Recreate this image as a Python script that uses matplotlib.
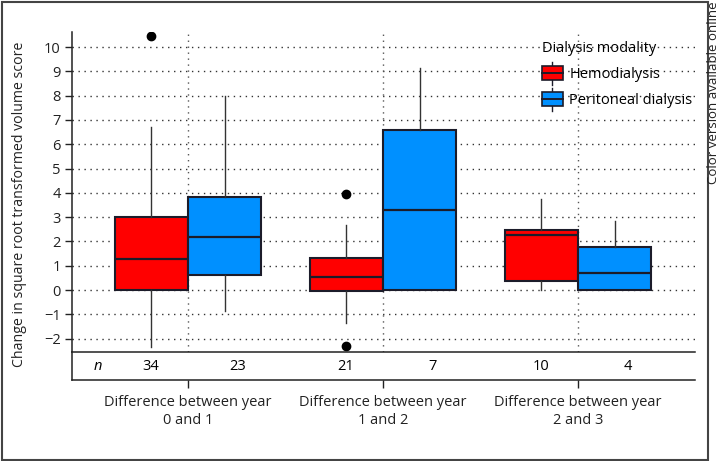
import matplotlib
matplotlib.use("Agg")
import matplotlib.pyplot as plt
from matplotlib.legend_handler import HandlerBase
from matplotlib.patches import Rectangle, Patch
from matplotlib.lines import Line2D

plt.rcParams['font.family'] = ['Open Sans', 'DejaVu Sans']

groups = ["Difference between year\n0 and 1",
          "Difference between year\n1 and 2",
          "Difference between year\n2 and 3"]
modalities = ["Hemodialysis", "Peritoneal dialysis"]
colors = ["#ff0000", "#0090ff"]

# Hemodialysis
hd_q1 = [0.0, -0.05, 0.38]
hd_med = [1.27, 0.55, 2.25]
hd_q3 = [3.02, 1.33, 2.47]
hd_wlo = [-2.33, -1.37, 0.0]
hd_whi = [6.72, 2.68, 3.74]
hd_out = [[10.47], [3.95, -2.3], []]
hd_n = [34, 21, 10]

# Peritoneal dialysis
pd_q1 = [0.6, 0.0, 0.0]
pd_med = [2.17, 3.3, 0.7]
pd_q3 = [3.82, 6.6, 1.77]
pd_wlo = [-0.86, 0.0, 0.0]
pd_whi = [8.0, 9.15, 2.84]
pd_out = [[], [], []]
pd_n = [23, 7, 4]

yticks = list(range(-2, 11))

W, H = 720, 461
fig = plt.figure(figsize=(W / 100, H / 100), dpi=100)

L, R = 72 / W, 695 / W
ax = fig.add_axes([L, 1 - 352 / H, R - L, (352 - 32) / H])
axn = fig.add_axes([L, 1 - 380 / H, R - L, (380 - 352) / H], sharex=ax)

edge = "#1c1c2a"
centers = list(range(len(groups)))
bw = 0.375


def stats(q1, med, q3, lo, hi, out):
    return [dict(q1=a, med=b, q3=c, whislo=d, whishi=e, fliers=f)
            for a, b, c, d, e, f in zip(q1, med, q3, lo, hi, out)]


series = [
    (stats(hd_q1, hd_med, hd_q3, hd_wlo, hd_whi, hd_out), -bw / 2, colors[0]),
    (stats(pd_q1, pd_med, pd_q3, pd_wlo, pd_whi, pd_out), bw / 2, colors[1]),
]
for st, off, col in series:
    ax.bxp(st, positions=[c + off for c in centers], widths=bw,
           patch_artist=True, showcaps=False, manage_ticks=False,
           boxprops=dict(facecolor=col, edgecolor=edge, linewidth=1.5),
           medianprops=dict(color=edge, linewidth=1.6),
           whiskerprops=dict(color="#333333", linewidth=1.0),
           flierprops=dict(marker="o", markerfacecolor="black",
                           markeredgecolor="black", markersize=6),
           zorder=3)

ax.set_xlim(-0.595, 2.6)
ax.set_ylim(-2.55, 10.62)
ax.set_yticks(yticks)
ax.set_yticklabels([str(t).replace("-", "\u2212") for t in yticks])
ax.tick_params(axis="y", direction="out", length=5, width=1, colors="#222222",
               labelsize=10.5, pad=3)
ax.tick_params(axis="x", bottom=False, labelbottom=False)
for s in ["top", "right", "bottom"]:
    ax.spines[s].set_visible(False)
ax.spines["left"].set_color("#222222")
ax.spines["left"].set_linewidth(1.1)
ax.grid(axis="y", linestyle=(0, (1, 3.3)), color="#333333", linewidth=1.0)
ax.set_axisbelow(True)
ax.vlines(centers, -2.55, 10.62, colors="#555555", linestyles=(0, (1, 3.3)),
          linewidth=1.0, zorder=1)
fig.text(20 / W, 1 - 204 / H, "Change in square root transformed volume score",
         rotation=90, ha="center", va="center", fontsize=10.2, color="#222222")


class BoxHandler(HandlerBase):
    def create_artists(self, legend, orig_handle, xdescent, ydescent, width,
                       height, fontsize, trans):
        x0, y0 = -xdescent, -ydescent
        cx = x0 + width / 2
        rect = Rectangle((x0, y0), width, height,
                         facecolor=orig_handle.get_facecolor(),
                         edgecolor=edge, linewidth=1.2, transform=trans)
        med = Line2D([x0, x0 + width], [y0 + height / 2] * 2, color=edge,
                     linewidth=1.4, transform=trans)
        w1 = Line2D([cx, cx], [y0 + height, y0 + height * 1.33], color=edge,
                    linewidth=1.0, transform=trans)
        w2 = Line2D([cx, cx], [y0, y0 - height * 0.33], color=edge,
                    linewidth=1.0, transform=trans)
        return [w1, w2, rect, med]


handles = [Patch(facecolor=c) for c in colors]
leg = ax.legend(handles, modalities, title="Dialysis modality",
                handler_map={Patch: BoxHandler()}, loc="upper left",
                bbox_to_anchor=(0.754, 0.972), frameon=False, fontsize=10.5,
                title_fontsize=10.5, handlelength=1.45, handleheight=1.1,
                handletextpad=0.45, labelspacing=0.7, borderpad=0,
                borderaxespad=0, alignment="left")

# n row
axn.set_ylim(0, 1)
axn.spines["right"].set_visible(False)
for s in ["left", "top", "bottom"]:
    axn.spines[s].set_color("#222222")
    axn.spines[s].set_linewidth(1.1)
axn.set_yticks([])
axn.set_xticks(centers)
axn.set_xticklabels(groups, fontsize=10.5, linespacing=1.25)
axn.tick_params(axis="x", direction="out", length=6, width=1,
                colors="#222222", pad=5)
axn.text(-0.46, 0.5, "n", style="italic", ha="center", va="center",
         fontsize=10.5)
for c, n1, n2 in zip(centers, hd_n, pd_n):
    axn.text(c - 0.19, 0.5, str(n1), ha="center", va="center", fontsize=10.5)
    axn.text(c + 0.255, 0.5, str(n2), ha="center", va="center", fontsize=10.5)

# outer frame and side note
fig.patches.append(Rectangle((1.5 / W, 1.5 / H), 706 / W, 457.5 / H,
                             transform=fig.transFigure, fill=False,
                             edgecolor="#444444", linewidth=1.5))
fig.text(713.5 / W, 1 - 1 / H, "Color version available online", rotation=90,
         ha="center", va="top", fontsize=9.5, color="#222222")

fig.savefig("out.png", dpi=100)
